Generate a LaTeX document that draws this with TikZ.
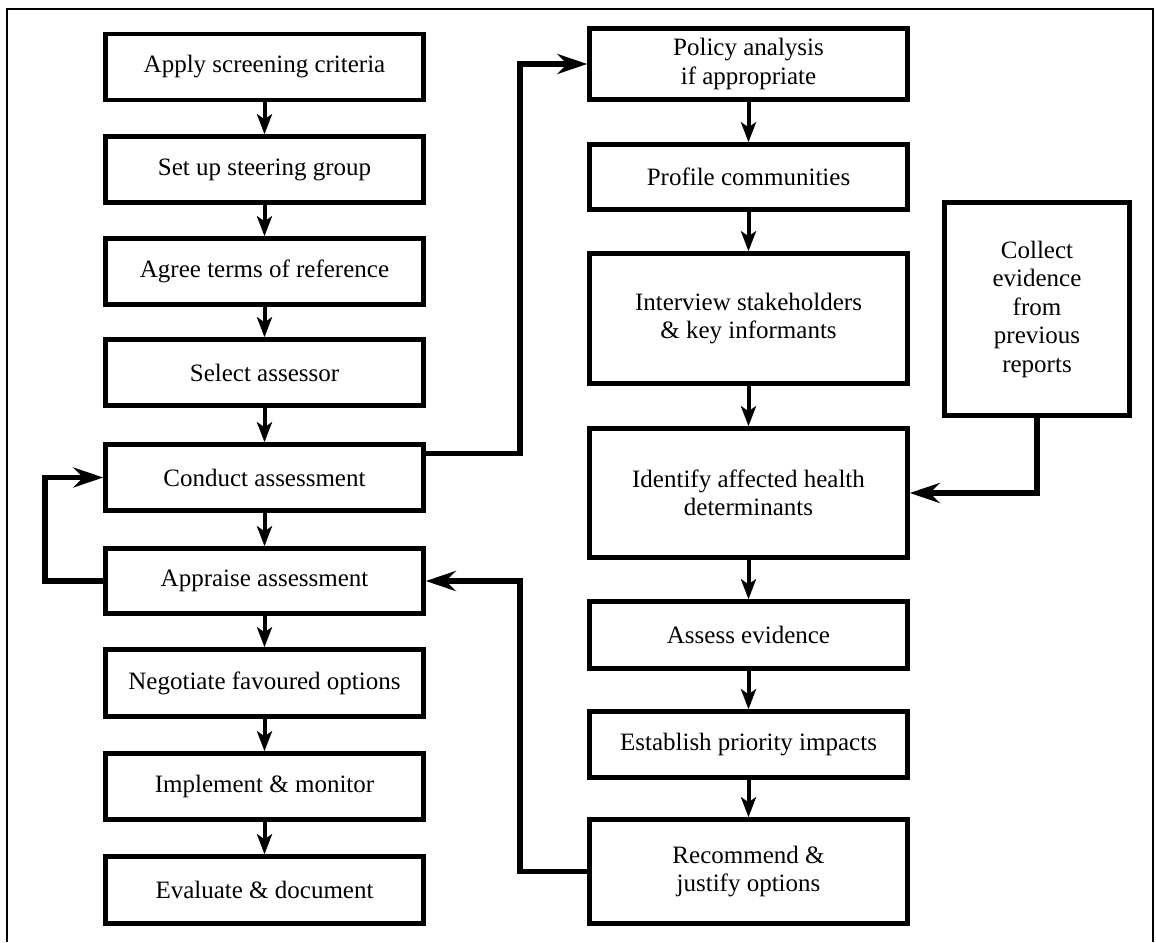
\documentclass[tikz,border=0pt]{standalone}
\usepackage{fontspec}
\setmainfont{Liberation Serif}
\usetikzlibrary{arrows.meta,calc}

\begin{document}
\begin{tikzpicture}[x=1pt,y=-1pt,
  stage/.style={draw,line width=4.5pt,align=center,inner sep=0pt,
    font=\fontsize{25}{28.5}\selectfont,minimum width=318pt},
  flow/.style={line width=4pt,-{Stealth[length=20pt,width=15pt,inset=5pt]}},
  feed/.style={line width=5.5pt,-{Stealth[length=30pt,width=20pt,inset=10pt]}}]
\useasboundingbox (0,0) rectangle (1156,942);

% frame
\draw[line width=2.5pt] (7,942) -- (7,9) -- (1153,9) -- (1153,942);

% left column
\node[stage,minimum height=66pt] (screen)    at (264.5,67)  {Apply screening criteria};
\node[stage,minimum height=66pt] (steer)     at (264.5,169.5) {Set up steering group};
\node[stage,minimum height=66pt] (terms)     at (264.5,271.5) {Agree terms of reference};
\node[stage,minimum height=66pt] (assessor)  at (264.5,372.5) {Select assessor};
\node[stage,minimum height=66pt] (conduct)   at (264.5,477.5) {Conduct assessment};
\node[stage,minimum height=65pt] (appraise)  at (264.5,581)  {Appraise assessment};
\node[stage,minimum height=67pt] (negotiate) at (264.5,683)  {Negotiate favoured options};
\node[stage,minimum height=66pt] (implement) at (264.5,786.5) {Implement \& monitor};
\node[stage,minimum height=67pt] (evaluate)  at (264.5,890)  {Evaluate \& document};

% right column
\node[stage,minimum height=71pt]  (policy)    at (748.5,64)   {Policy analysis\\if appropriate};
\node[stage,minimum height=65pt]  (profile)   at (748.5,177)  {Profile communities};
\node[stage,minimum height=130pt] (interview) at (748.5,318.5) {Interview stakeholders\\\& key informants};
\node[stage,minimum height=129pt] (identify)  at (748.5,493)  {Identify affected health\\determinants};
\node[stage,minimum height=67pt]  (assess)    at (748.5,635)  {Assess evidence};
\node[stage,minimum height=66pt]  (establish) at (748.5,744.5) {Establish priority impacts};
\node[stage,minimum height=104pt] (recommend) at (748.5,871.5) {Recommend \&\\justify options};

\node[stage,minimum width=185pt,minimum height=213pt] (collect) at (1037,309)
  {Collect\\evidence\\from\\previous\\reports};

% steps
\foreach \a/\b in {screen/steer,steer/terms,terms/assessor,assessor/conduct,
  conduct/appraise,appraise/negotiate,negotiate/implement,implement/evaluate,
  policy/profile,profile/interview,interview/identify,identify/assess,
  assess/establish,establish/recommend}
  \draw[flow] (\a) -- (\b);

% loops
\coordinate (mid) at (520,0);
\coordinate (lft) at (45,0);
\coordinate (out) at ($(conduct.east)+(0,-24)$);
\draw[feed] (out) -| (policy.west -| mid) -- (policy.west);
\draw[feed] (recommend.west) -| (appraise.east -| mid) -- (appraise.east);
\draw[feed] (appraise.west) -| (conduct.west -| lft) -- (conduct.west);
\draw[feed] (collect.south) |- (identify.east);

\end{tikzpicture}
\end{document}
